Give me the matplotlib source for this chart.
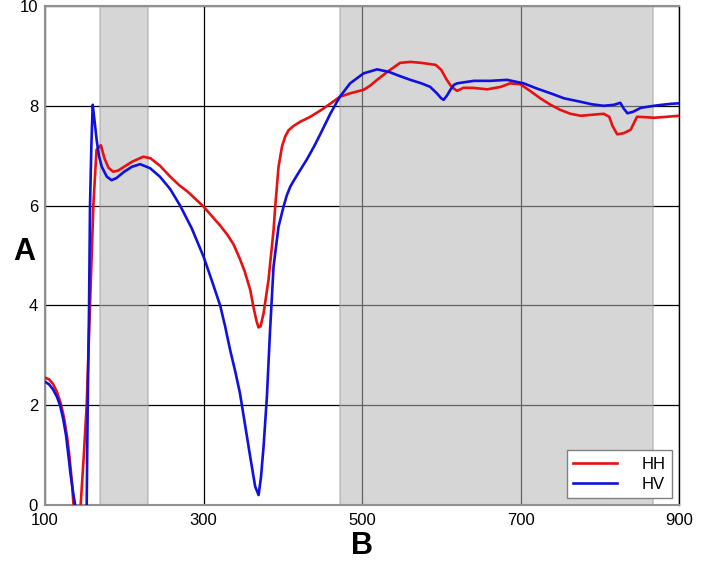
import matplotlib
matplotlib.use("Agg")
import matplotlib.pyplot as plt

plt.rcParams['font.family'] = ['Liberation Sans', 'DejaVu Sans']

# HH series (red)
hh_x = [100, 105, 110, 115, 120, 124, 128, 131, 134, 136, 138, 143, 145, 149, 152.6, 156.8, 161,
        165, 170.5, 175, 180, 186, 192, 200, 210, 224, 233, 245, 258, 270, 280, 290, 300, 310,
        321, 330, 338, 346, 352, 359, 363, 367, 369.4, 372, 375.8, 382, 388.4, 390.5, 394.7,
        399, 403, 407.3, 414, 422, 434.7, 450, 465, 472,
        485, 502, 510, 519, 532, 548, 561, 575, 593, 600, 607, 613, 620, 628, 640, 658,
        675, 687, 700, 712, 725, 738, 750, 763, 776, 790, 805, 812, 816, 822, 830, 839,
        843, 847, 860, 868, 885, 900]
hh_y = [2.55, 2.52, 2.43, 2.27, 2.03, 1.75, 1.35, 0.95, 0.45, 0.0, -0.8, -0.8, 0.0, 1.0, 2.0, 4.0, 6.0,
        7.12, 7.21, 6.95, 6.76, 6.68, 6.7, 6.78, 6.88, 6.98, 6.95, 6.8, 6.58, 6.4, 6.28, 6.13, 5.98, 5.8,
        5.6, 5.42, 5.22, 4.93, 4.68, 4.31, 3.97, 3.68, 3.56, 3.58, 3.84, 4.51, 5.51, 5.98, 6.78,
        7.18, 7.38, 7.51, 7.6, 7.68, 7.78, 7.93, 8.1, 8.18,
        8.25, 8.32, 8.4, 8.52, 8.68, 8.86, 8.88, 8.86, 8.82, 8.72, 8.52, 8.38, 8.3, 8.36, 8.36, 8.33,
        8.38, 8.45, 8.43, 8.3, 8.15, 8.02, 7.92, 7.84, 7.8, 7.82, 7.84, 7.78, 7.6, 7.43, 7.45, 7.52,
        7.65, 7.78, 7.77, 7.76, 7.78, 7.8]

# HV series (blue)
hv_x = [100, 105, 110, 115, 119, 123, 126.5, 129.5, 132, 135, 138, 140, 151, 152.6, 153.9, 155.6,
        156.8, 158.5, 160.2, 162.5, 165.3, 168, 171.6, 178, 184, 190, 200, 210, 220, 232.6,
        245, 258, 270.5, 285, 300, 310, 321, 327, 333.7, 340, 346, 352, 358.9, 365.2, 369.5,
        372.5, 375.8, 380, 384, 388.4, 394.7, 401, 405, 409.5, 415, 420, 430.6, 440, 447, 460,
        472, 485, 502, 519, 534, 547, 561, 575, 586, 594.5, 600, 603, 607, 611.5, 616, 620, 641,
        662, 683, 704, 720, 738, 755, 776, 790, 805, 818, 826, 830, 835, 842, 852, 873, 890, 900]
hv_y = [2.47, 2.42, 2.32, 2.17, 2.0, 1.72, 1.4, 1.0, 0.65, 0.3, 0.0, -0.8, -0.8, 0.0, 2.0, 4.0,
        6.0, 7.2, 8.02, 7.7, 7.3, 7.0, 6.78, 6.58, 6.51, 6.55, 6.68, 6.78, 6.83, 6.75,
        6.58, 6.33, 6.0, 5.55, 4.98, 4.52, 4.0, 3.6, 3.1, 2.68, 2.24, 1.65, 0.97, 0.37, 0.2,
        0.55, 1.17, 2.17, 3.5, 4.78, 5.58, 5.98, 6.2, 6.38, 6.53, 6.66, 6.93, 7.2, 7.42, 7.84,
        8.18, 8.45, 8.65, 8.73, 8.68, 8.6, 8.52, 8.45, 8.38, 8.25, 8.15, 8.12, 8.2, 8.32, 8.42, 8.45, 8.5,
        8.5, 8.52, 8.45, 8.35, 8.25, 8.15, 8.08, 8.03, 8.0, 8.02, 8.06, 7.95, 7.85, 7.88, 7.96, 8.01, 8.04, 8.05]

shade_spans = [(170, 230), (472, 867)]
x_ticks = [100, 300, 500, 700, 900]
y_ticks = [0, 2, 4, 6, 8, 10]
series_labels = ["HH", "HV"]

fig = plt.figure(figsize=(7.06, 5.64), dpi=100)
ax = fig.add_axes([45/706, 59/564, 634/706, 499/564])

ax.set_xlim(100, 900)
ax.set_ylim(0, 10)

# grid (black) under translucent shading
for xv in x_ticks:
    ax.axvline(xv, color='black', lw=0.9, zorder=0.5)
for yv in y_ticks:
    ax.axhline(yv, color='black', lw=0.9, zorder=0.5)

for a, b in shade_spans:
    ax.axvspan(a, b, facecolor=(0.71, 0.71, 0.71), alpha=0.55,
               edgecolor='#a0a0a0', lw=1.2, zorder=1)

ax.plot(hh_x, hh_y, color='#e81010', lw=1.9, label=series_labels[0], zorder=3)
ax.plot(hv_x, hv_y, color='#1010e0', lw=1.9, label=series_labels[1], zorder=3)

ax.set_xticks(x_ticks)
ax.set_yticks(y_ticks)
ax.tick_params(length=0, labelsize=12, pad=5)
ax.tick_params(axis='x', pad=6)

for s in ['left', 'bottom', 'top']:
    ax.spines[s].set_color('#909090')
    ax.spines[s].set_linewidth(1.5)
ax.spines['right'].set_color('black')
ax.spines['right'].set_linewidth(1.0)

fig.text(24/706, 1 - 252/564, "A", fontsize=22, fontweight='bold', ha='center', va='center')
fig.text(362/706, 1 - 546/564, "B", fontsize=22, fontweight='bold', ha='center', va='center')

leg = ax.legend(loc='lower right', fontsize=12, handlelength=2.6, frameon=True,
                fancybox=False, borderaxespad=0.4, handletextpad=1.5,
                borderpad=0.4, labelspacing=0.3)
leg.get_frame().set_edgecolor('#808080')
leg.get_frame().set_linewidth(1.0)
leg.get_frame().set_alpha(1.0)

fig.savefig("out.png", dpi=100)
